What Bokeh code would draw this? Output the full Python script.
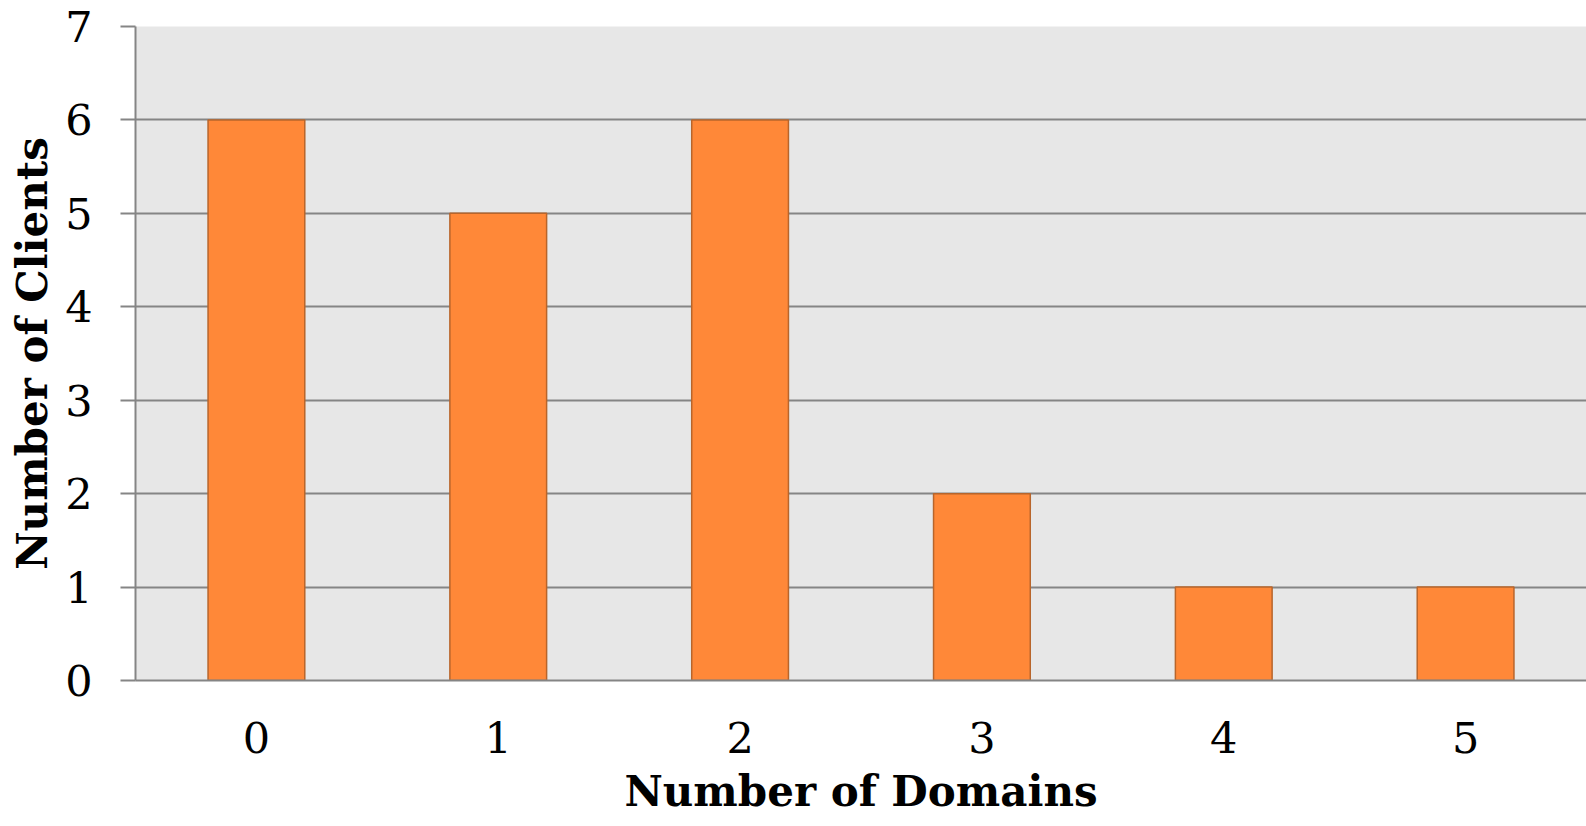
from bokeh.plotting import figure
from bokeh.embed import file_html
from bokeh.resources import INLINE
from bokeh.models import FixedTicker, Title

domains = ["0", "1", "2", "3", "4", "5"]
clients = [6, 5, 6, 2, 1, 1]
y_ticks = [0, 1, 2, 3, 4, 5, 6, 7]
x_title = "Number of Domains"
y_title = "Number of Clients"

p = figure(width=1586, height=826, x_range=domains, y_range=(0, 7),
           output_backend="svg", toolbar_location=None,
           min_border_left=135, min_border_right=0, min_border_top=26,
           min_border_bottom=146)

p.vbar(x=domains, top=clients, width=0.4, fill_color="#FF8838",
       line_color="#B8652B", line_width=1.5)

p.background_fill_color = "#E7E7E7"
p.border_fill_color = "white"
p.outline_line_color = None

p.xgrid.grid_line_color = None
p.ygrid.grid_line_color = "#858585"
p.ygrid.grid_line_width = 2
p.yaxis.ticker = FixedTicker(ticks=y_ticks)

for ax in (p.xaxis[0], p.yaxis[0]):
    ax.axis_line_color = "#858585"
    ax.axis_line_width = 2
    ax.major_tick_line_color = "#858585"
    ax.major_tick_line_width = 2
    ax.minor_tick_line_color = None
    ax.major_label_text_font = "DejaVu Serif"
    ax.major_label_text_font_size = "43px"
    ax.major_label_text_color = "black"
    ax.axis_label_text_font = "DejaVu Serif"
    ax.axis_label_text_font_style = "bold"
    ax.axis_label_text_font_size = "42px"
    ax.axis_label_text_color = "black"

p.yaxis.major_tick_out = 15
p.yaxis.major_tick_in = 0
p.yaxis.major_label_standoff = 28
p.xaxis.major_tick_out = 0
p.xaxis.major_tick_in = 0
p.xaxis.major_label_standoff = 41
p.yaxis.axis_label = y_title
p.yaxis.axis_label_standoff = 5

xt = Title(text=x_title, align="center",
           text_font="DejaVu Serif", text_font_style="bold",
           text_font_size="42px", text_color="black", standoff=19)
p.add_layout(xt, "below")

open("out.html", "w").write(file_html(p, INLINE))
